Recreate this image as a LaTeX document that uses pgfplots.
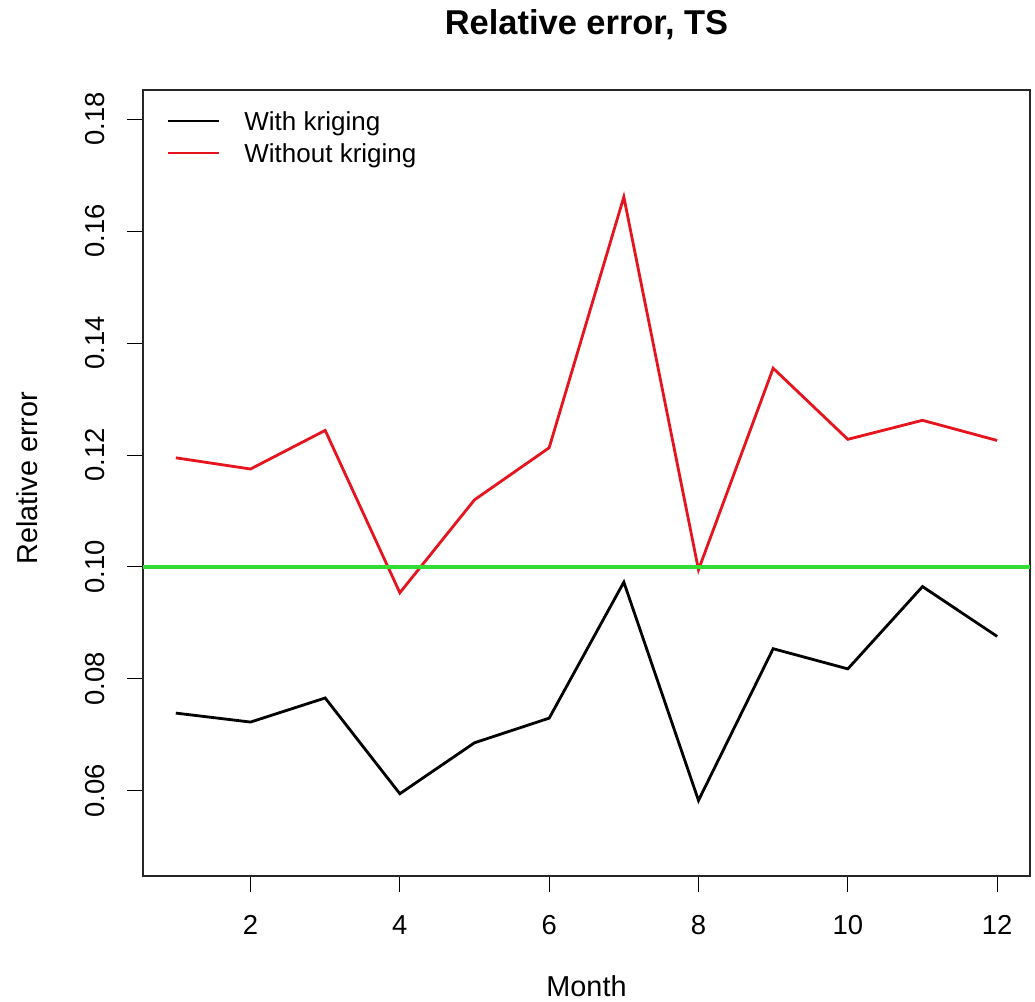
\documentclass[border=0pt]{standalone}
\usepackage{pgfplots}
\pgfplotsset{compat=1.18}
\usepackage{fontspec}
\setmainfont{Liberation Sans}
\definecolor{rgreen}{RGB}{50,220,50}
\definecolor{rred}{RGB}{230,20,30}
\newcommand{\ry}[1]{\rotatebox[origin=c]{90}{#1}}
\begin{document}
\begin{tikzpicture}
\useasboundingbox (0,0) rectangle (258.75mm,-250.25mm);
\begin{axis}[
  at={(35.75mm,-219mm)}, anchor=south west,
  width=221.75mm, height=196.5mm, scale only axis,
  xmin=0.56, xmax=12.44, ymin=0.0448, ymax=0.1852,
  xtick={2,4,6,8,10,12},
  ytick={0.06,0.08,0.10,0.12,0.14,0.16,0.18},
  yticklabels={\ry{0.06},\ry{0.08},\ry{0.10},\ry{0.12},\ry{0.14},\ry{0.16},\ry{0.18}},
  xtick pos=bottom, ytick pos=left,
  tick align=outside, major tick length=4mm,
  tick style={black, line width=0.7pt},
  axis line style={black!85, line width=1.1pt},
  /pgf/number format/assume math mode=true,
  tick label style={font=\fontsize{19.5}{23}\selectfont, inner sep=0pt},
  xticklabel style={anchor=base, yshift=-10.5mm},
  yticklabel style={anchor=east, xshift=-5.6mm},
  title={Relative error, TS},
  title style={at={(axis description cs:0.5,1.06)}, anchor=base, inner sep=0pt, font=\fontsize{24.5}{28}\selectfont\bfseries},
  xlabel={Month},
  xlabel style={at={(axis description cs:0.5,-0.1527)}, anchor=base, inner sep=0pt, font=\fontsize{20.5}{24}\selectfont},
  ylabel={Relative error},
  ylabel style={at={(axis description cs:-0.1184,0.506)}, anchor=base, inner sep=0pt, font=\fontsize{20.5}{24}\selectfont},
  legend cell align=left,
  legend image code/.code={\draw[#1, line width=1pt] (0mm,2.5mm) -- (12.75mm,2.5mm);},
  legend style={at={(axis description cs:0.02706,0.9718)}, anchor=north west, draw=none, fill=none, inner sep=0pt, outer sep=0pt,
    font=\fontsize{18.5}{22}\selectfont,
    cells={anchor=base west},
    nodes={inner sep=0pt, text height=4.7mm, text depth=1.4mm},
    column sep=6.25mm, row sep=1.9mm},
]
\addplot[black, line width=2pt] coordinates {
 (1,0.0739) (2,0.0723) (3,0.0766) (4,0.0595) (5,0.0686) (6,0.0730)
 (7,0.0973) (8,0.0583) (9,0.0854) (10,0.0818) (11,0.0965) (12,0.0876)};
\addlegendentry{With kriging}
\addplot[rred, line width=2pt] coordinates {
 (1,0.1195) (2,0.1175) (3,0.1244) (4,0.0954) (5,0.1120) (6,0.1213)
 (7,0.1661) (8,0.0995) (9,0.1355) (10,0.1228) (11,0.1262) (12,0.1226)};
\addlegendentry{Without kriging}
\addplot[rgreen, line width=2.4pt, forget plot] coordinates {(0.56,0.10) (12.44,0.10)};
\end{axis}
\end{tikzpicture}
\end{document}
